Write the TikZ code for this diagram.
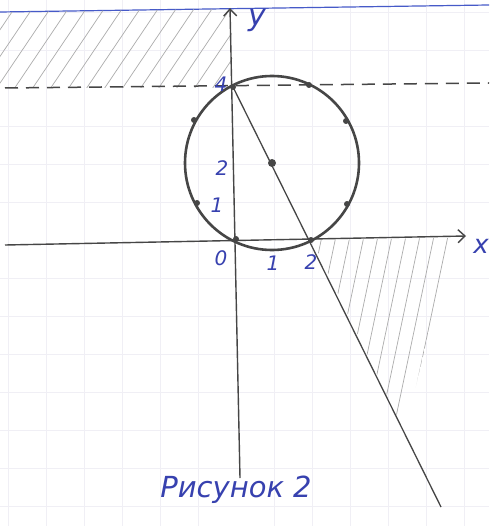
\documentclass[tikz,border=0pt]{standalone}
\usepackage{fontspec}
\setmainfont{DejaVu Sans}
\usetikzlibrary{arrows.meta}
\definecolor{ink}{RGB}{55,65,175}
\definecolor{pencil}{RGB}{70,70,70}
\definecolor{gridc}{RGB}{240,239,245}
\definecolor{topline}{RGB}{70,90,200}
\begin{document}
\begin{tikzpicture}[x=1pt,y=-1pt,
  pen/.style={draw=pencil,line width=1.4pt},
  axisarrow/.style={pen,-{Straight Barb[length=7pt,width=13pt]}},
  lbl/.style={text=ink,font=\itshape\fontsize{20}{20}\selectfont,inner sep=0pt},
  biglbl/.style={text=ink,font=\itshape\fontsize{29}{29}\selectfont,inner sep=0pt},
  ptdot/.style={circle,fill=pencil,inner sep=0pt,minimum size=6pt},
  hatchline/.style={draw=gray!65,line width=0.7pt}]
\useasboundingbox (0,0) rectangle (489,526);
\fill[white] (0,0) rectangle (489,526);
% paper grid
\foreach \gx in {8,46,84,122,160,198,274,312,350,388,426,464}
  \draw[gridc,line width=0.7pt] (\gx,0) -- (\gx,526);
\foreach \gy in {12,50,126,164,202,278,316,354,392,430,468,506}
  \draw[gridc,line width=0.7pt] (0,\gy) -- (489,\gy);
% top blue margin line
\draw[topline,line width=1.2pt] (0,12) -- (489,5);
% hatched region top-left
\begin{scope}
  \clip (0,12) -- (231,9) -- (233,88) -- (0,88) -- cycle;
  \foreach \a in {-60,-42,...,240}
    \draw[hatchline] (\a,92) -- ++(58,-86);
\end{scope}
% hatched region bottom-right
\begin{scope}
  \clip (312,240) -- (451,238) -- (405,432) -- cycle;
  \foreach \a in {322,336,...,480}
    \draw[hatchline] (\a,236) -- ++(-42,200);
\end{scope}
% dashed line y=4
\draw[draw=pencil,line width=1.5pt,dash pattern=on 13pt off 8pt] (5,88) -- (489,83);
% axes
\coordinate (xstart) at (5,245);
\coordinate (xend) at (466,236);
\coordinate (ystart) at (240,478);
\coordinate (yend) at (230,8);
\draw[axisarrow] (xstart) -- (xend);
\draw[axisarrow] (ystart) -- (yend);
% circle
\coordinate (C) at (272,163);
\draw[draw=pencil,line width=2.6pt] (C) circle[radius=87pt];
% points
\node[ptdot] (p04) at (233,87) {};
\node[ptdot] (p24) at (309,85) {};
\node[ptdot] (p33) at (346,121) {};
\node[ptdot] (p31) at (347,204) {};
\node[ptdot] (p20) at (311,240) {};
\node[ptdot] (p00) at (236,239) {};
\node[ptdot] (pm11) at (197,203) {};
\node[ptdot] (pm13) at (194,120) {};
\node[ptdot,minimum size=8pt] (pc) at (272,163) {};
% line y = 4 - 2x
\coordinate (lend) at (441,507);
\draw[pen,line width=1.3pt] (p04.center) -- (lend);
% labels
\node[lbl,font=\itshape\fontsize{30}{30}\selectfont] (ylab) at (257,20) {y};
\node[lbl,font=\itshape\fontsize{26}{26}\selectfont] (xlab) at (481,246) {x};
\node[lbl] (l4) at (221,84) {4};
\node[lbl] (l2y) at (222,168) {2};
\node[lbl] (l1y) at (217,205) {1};
\node[lbl] (l0) at (221,258) {0};
\node[lbl] (l1x) at (273,263) {1};
\node[lbl] (l2x) at (311,262) {2};
\node[biglbl] (cap) at (236,490) {Рисунок 2};
\end{tikzpicture}
\end{document}
